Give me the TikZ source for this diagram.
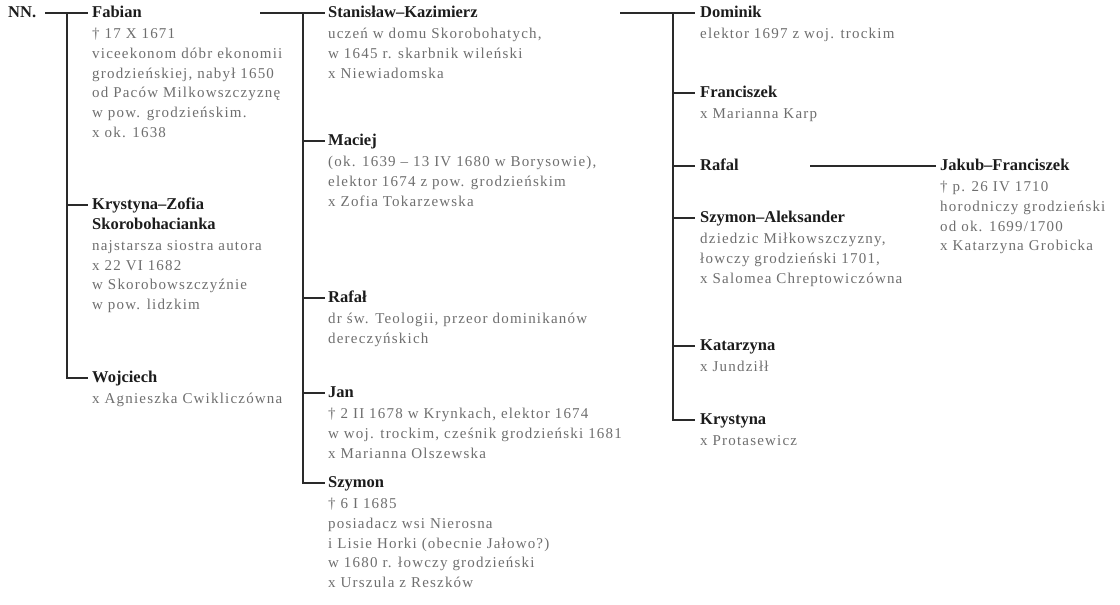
\documentclass[tikz,border=0pt]{standalone}
\usepackage{fontspec}
\setmainfont{Liberation Serif}
\newfontfamily\descfont[LetterSpace=8]{Liberation Serif}
\usepackage{xcolor}
\definecolor{kinink}{HTML}{2A2A2A}
\definecolor{namegray}{HTML}{1C1C1C}
\definecolor{descgray}{HTML}{6E6E6E}
\usepackage{tikz}
\usetikzlibrary{positioning}

\tikzset{
  person/.style={anchor=west, inner sep=0pt, text height=11pt, text depth=3pt,
    text=namegray, font=\fontsize{16.5}{19.7}\selectfont\bfseries},
  details/.style={inner sep=0pt, align=left, text=descgray,
    font=\descfont\fontsize{15}{19.7}\selectfont},
  kinline/.style={draw=kinink, line width=1.1pt}
}
\newcommand{\boldline}[1]{{\normalfont\fontsize{16.5}{19.7}\selectfont\bfseries\color{namegray}#1}}

\begin{document}
\begin{tikzpicture}[x=1pt, y=-1pt]
  \useasboundingbox (0,0) rectangle (1120,605);

  % Generation I
  \node[person] (nn) at (8,13) {NN.};
  \node[person] (fabian) at (92,13) {Fabian};
  \node[details, below right=4.7pt and 0pt of fabian.south west] (fabianT)
    {\strut† 17 X 1671\\viceekonom dóbr ekonomii\\grodzieńskiej, nabył 1650\\
     od Paców Milkowszczyznę\\w pow. grodzieńskim.\\x ok. 1638};
  \node[person] (krystyna) at (92,205) {Krystyna–Zofia};
  \node[details, below right=3pt and 0pt of krystyna.south west] (krystynaT)
    {\strut\boldline{Skorobohacianka}\\[1.5pt]najstarsza siostra autora\\x 22 VI 1682\\
     w Skorobowszczyźnie\\w pow. lidzkim};
  \node[person] (wojciech) at (92,378) {Wojciech};
  \node[details, below right=4.7pt and 0pt of wojciech.south west] (wojciechT)
    {\strut x Agnieszka Cwikliczówna};

  % Generation II
  \node[person] (stanislaw) at (328,13) {Stanisław–Kazimierz};
  \node[details, below right=4.7pt and 0pt of stanislaw.south west] (stanislawT)
    {\strut uczeń w domu Skorobohatych,\\w 1645 r. skarbnik wileński\\x Niewiadomska};
  \node[person] (maciej) at (328,141) {Maciej};
  \node[details, below right=4.7pt and 0pt of maciej.south west] (maciejT)
    {\strut(ok. 1639 – 13 IV 1680 w Borysowie),\\elektor 1674 z pow. grodzieńskim\\
     x Zofia Tokarzewska};
  \node[person] (rafal) at (328,298) {Rafał};
  \node[details, below right=4.7pt and 0pt of rafal.south west] (rafalT)
    {\strut dr św. Teologii, przeor dominikanów\\dereczyńskich};
  \node[person] (jan) at (328,393) {Jan};
  \node[details, below right=4.7pt and 0pt of jan.south west] (janT)
    {\strut† 2 II 1678 w Krynkach, elektor 1674\\w woj. trockim, cześnik grodzieński 1681\\
     x Marianna Olszewska};
  \node[person] (szymon) at (328,483) {Szymon};
  \node[details, below right=4.7pt and 0pt of szymon.south west] (szymonT)
    {\strut† 6 I 1685\\posiadacz wsi Nierosna\\i Lisie Horki (obecnie Jałowo?)\\
     w 1680 r. łowczy grodzieński\\x Urszula z Reszków};

  % Generation III
  \node[person] (dominik) at (700,13) {Dominik};
  \node[details, below right=4.7pt and 0pt of dominik.south west] (dominikT)
    {\strut elektor 1697 z woj. trockim};
  \node[person] (franciszek) at (700,93) {Franciszek};
  \node[details, below right=4.7pt and 0pt of franciszek.south west] (franciszekT)
    {\strut x Marianna Karp};
  \node[person] (rafalB) at (700,166) {Rafal};
  \node[person] (szymonB) at (700,218) {Szymon–Aleksander};
  \node[details, below right=4.7pt and 0pt of szymonB.south west] (szymonBT)
    {\strut dziedzic Miłkowszczyzny,\\łowczy grodzieński 1701,\\x Salomea Chreptowiczówna};
  \node[person] (katarzyna) at (700,346) {Katarzyna};
  \node[details, below right=4.7pt and 0pt of katarzyna.south west] (katarzynaT)
    {\strut x Jundziłł};
  \node[person] (krystynaB) at (700,420) {Krystyna};
  \node[details, below right=4.7pt and 0pt of krystynaB.south west] (krystynaBT)
    {\strut x Protasewicz};

  % Generation IV
  \node[person] (jakub) at (940,166) {Jakub–Franciszek};
  \node[details, below right=4.7pt and 0pt of jakub.south west] (jakubT)
    {\strut† p. 26 IV 1710\\horodniczy grodzieński\\od ok. 1699/1700\\x Katarzyna Grobicka};

  % Branches of NN.
  \coordinate (spineA) at ([xshift=-25pt]fabian.west);
  \draw[kinline] ([xshift=9pt]nn.east) -- ([xshift=-4pt]fabian.west);
  \draw[kinline] (spineA) |- ([xshift=-4pt]wojciech.west);
  \draw[kinline] (spineA |- krystyna.west) -- ([xshift=-4pt]krystyna.west);

  % Branches of Fabian
  \coordinate (fabianR) at ([xshift=-68pt]stanislaw.west);
  \coordinate (spineB) at ([xshift=-25pt]stanislaw.west);
  \draw[kinline] (fabianR) -- ([xshift=-3pt]stanislaw.west);
  \draw[kinline] (spineB) |- ([xshift=-3pt]szymon.west);
  \draw[kinline] (spineB |- maciej.west) -- ([xshift=-3pt]maciej.west);
  \draw[kinline] (spineB |- rafal.west) -- ([xshift=-3pt]rafal.west);
  \draw[kinline] (spineB |- jan.west) -- ([xshift=-3pt]jan.west);

  % Branches of Stanislaw-Kazimierz
  \coordinate (stanislawR) at ([xshift=-80pt]dominik.west);
  \coordinate (spineC) at ([xshift=-27pt]dominik.west);
  \draw[kinline] (stanislawR) -- ([xshift=-5pt]dominik.west);
  \draw[kinline] (spineC) |- ([xshift=-5pt]krystynaB.west);
  \draw[kinline] (spineC |- franciszek.west) -- ([xshift=-5pt]franciszek.west);
  \draw[kinline] (spineC |- rafalB.west) -- ([xshift=-5pt]rafalB.west);
  \draw[kinline] (spineC |- szymonB.west) -- ([xshift=-5pt]szymonB.west);
  \draw[kinline] (spineC |- katarzyna.west) -- ([xshift=-5pt]katarzyna.west);

  % Branch of Rafal
  \coordinate (rafalR) at ([xshift=-130pt]jakub.west);
  \draw[kinline] (rafalR) -- ([xshift=-4pt]jakub.west);
\end{tikzpicture}
\end{document}
